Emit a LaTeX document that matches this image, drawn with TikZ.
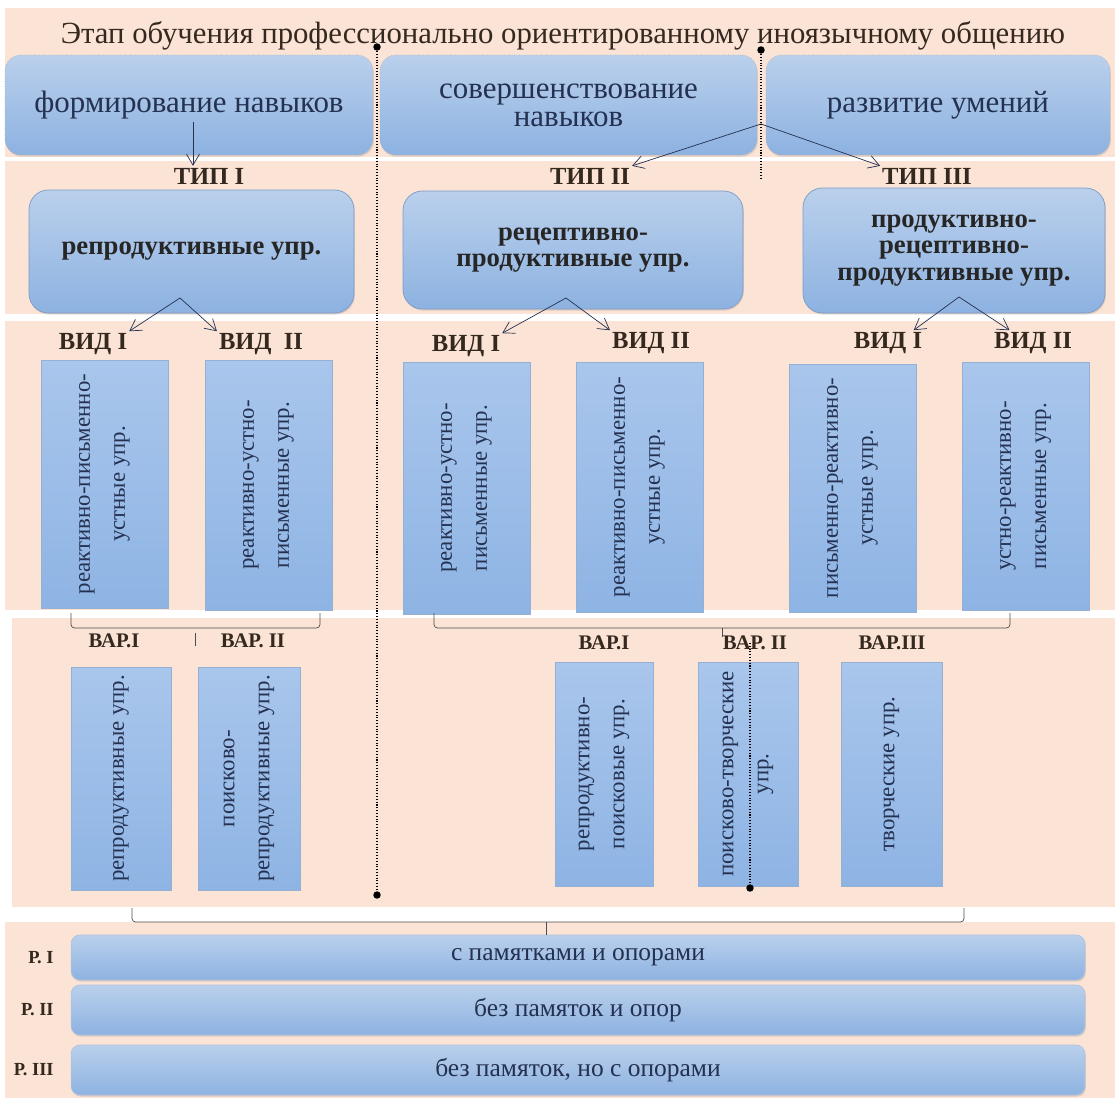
\documentclass[tikz,border=0pt]{standalone}
\usepackage{fontspec}
\setmainfont{Liberation Serif}
\usetikzlibrary{arrows.meta, positioning, shadows}

\definecolor{peach}{HTML}{FBE4D6}
\definecolor{bluetop}{HTML}{BAD0EC}
\definecolor{bluebot}{HTML}{8DB2E1}
\definecolor{formtop}{HTML}{A9C6EC}
\definecolor{formbot}{HTML}{8EB4E4}
\definecolor{blueline}{HTML}{7C9BC7}
\definecolor{inkblue}{HTML}{243151}
\definecolor{inkbrown}{HTML}{35291F}

\begin{document}
\begin{tikzpicture}[
    x=0.02cm, y=-0.02cm, % one unit = one pixel of the scheme, y grows downwards
    >={Straight Barb[length=2.2mm, width=2.6mm]}, % open arrow tips
    band/.style={fill=peach}, % background strips
    softshadow/.style={drop shadow={shadow xshift=0.5pt, shadow yshift=-0.9pt, opacity=0.25}},
    stagebox/.style={rounded corners=9pt, top color=bluetop, bottom color=bluebot,
        draw=gray!60, densely dotted, minimum height=2cm, text=inkblue, align=center,
        font=\fontsize{17.6}{16}\selectfont, softshadow},
    typebox/.style={rounded corners=11pt, top color=bluetop, bottom color=bluebot,
        draw=blueline, thin, text=black!85, align=center,
        font=\bfseries\fontsize{15.2}{15}\selectfont, softshadow},
    formbox/.style={rotate=90, top color=formtop, bottom color=formbot, draw=blueline!80, thin,
        text=inkblue, align=center, font=\fontsize{13}{20}\selectfont},
    rowbox/.style={rounded corners=5pt, top color=bluetop, bottom color=bluebot, draw=blueline!60,
        minimum width=20.28cm, text=inkblue, font=\fontsize{14.5}{16}\selectfont, softshadow},
    caption/.style={text=inkbrown, inner sep=1pt, font=\bfseries\fontsize{14}{14}\selectfont},
    varlabel/.style={text=inkbrown, inner sep=1pt, font=\bfseries\fontsize{11.8}{12}\selectfont},
    rowlabel/.style={text=inkbrown, inner sep=1pt, font=\bfseries\fontsize{10.5}{12}\selectfont},
    conn/.style={draw=inkblue, thin},
    brace/.style={draw=gray!60!black, thin, rounded corners=2pt},
    divider/.style={draw=black, densely dotted, semithick},
    enddot/.style={fill=black, circle, inner sep=1.5pt}
]
    \useasboundingbox (0,0) rectangle (1115,1098);

    % Background strips
    \fill[band] (5,8) rectangle (1115,157);
    \fill[band] (5,161) rectangle (1115,314);
    \fill[band] (5,321) rectangle (1115,610);
    \fill[band] (12,618) rectangle (1115,907);
    \fill[band] (5,922) rectangle (1115,1098);

    % Title
    \node[text=inkbrown, font=\fontsize{17.5}{20}\selectfont] (title) at (563,36)
        {Этап обучения профессионально ориентированному иноязычному общению};

    % Stages
    \node[stagebox, minimum width=7.36cm] (form)  at (189,105) {формирование навыков};
    \node[stagebox, minimum width=7.54cm] (perf)  at (568.5,105) {совершенствование\\навыков};
    \node[stagebox, minimum width=6.88cm] (devel) at (938,105) {развитие умений};

    % Types
    \node[caption] (tipI)   at (209,176) {ТИП I};
    \node[caption] (tipII)  at (590,176) {ТИП II};
    \node[caption] (tipIII) at (927,176) {ТИП III};

    \node[typebox, minimum width=6.5cm, minimum height=2.46cm] (typeI) at (191.5,251.5)
        {репродуктивные упр.};
    \node[typebox, minimum width=6.8cm, minimum height=2.36cm] (typeII) at (573,250)
        {рецептивно-\\продуктивные упр.};
    \node[typebox, minimum width=6.04cm, minimum height=2.5cm] (typeIII) at (954,250.5)
        {продуктивно-\\рецептивно-\\продуктивные упр.};

    % Kinds
    \node[caption] (vidLa) at (93,344)   {ВИД I};
    \node[caption] (vidLb) at (261,344)  {ВИД~ II};
    \node[caption] (vidMa) at (466,346)  {ВИД I};
    \node[caption] (vidMb) at (651,343)  {ВИД II};
    \node[caption] (vidRa) at (888,343)  {ВИД I};
    \node[caption] (vidRb) at (1033,343) {ВИД II};

    \node[formbox, minimum width=4.96cm, minimum height=2.54cm] (fL1) at (104.5,484)
        {реактивно-письменно-\\устные упр.};
    \node[formbox, minimum width=5cm, minimum height=2.54cm] (fL2) at (268.5,485)
        {реактивно-устно-\\письменные упр.};
    \node[formbox, minimum width=5.04cm, minimum height=2.54cm] (fM1) at (466.5,488)
        {реактивно-устно-\\письменные упр.};
    \node[formbox, minimum width=5cm, minimum height=2.54cm] (fM2) at (639.5,487)
        {реактивно-письменно-\\устные упр.};
    \node[formbox, minimum width=4.96cm, minimum height=2.54cm] (fR1) at (852.5,488)
        {письменно-реактивно-\\устные упр.};
    \node[formbox, minimum width=4.96cm, minimum height=2.54cm] (fR2) at (1025.5,486)
        {устно-реактивно-\\письменные упр.};

    % Variants
    \node[varlabel] (varLa) at (114,641) {ВАР.I};
    \node[varlabel] (varLb) at (253,641) {ВАР. II};
    \node[varlabel] (varMa) at (604,643) {ВАР.I};
    \node[varlabel] (varMb) at (755,643) {ВАР. II};
    \node[varlabel] (varMc) at (892,643) {ВАР.III};

    \node[formbox, minimum width=4.46cm, minimum height=2cm] (vL1) at (121,778.5)
        {репродуктивные упр.};
    \node[formbox, minimum width=4.46cm, minimum height=2.04cm] (vL2) at (249,778.5)
        {поисково-\\репродуктивные упр.};
    \node[formbox, minimum width=4.48cm, minimum height=1.96cm] (vM1) at (604,774)
        {репродуктивно-\\поисковые упр.};
    \node[formbox, minimum width=4.48cm, minimum height=2cm] (vM2) at (748,774)
        {поисково-творческие\\упр.};
    \node[formbox, minimum width=4.48cm, minimum height=2.02cm] (vM3) at (891.5,774)
        {творческие упр.};

    % Regimes
    \node[rowbox, minimum height=0.9cm] (rowI)   at (578,957.5) {с памятками и опорами};
    \node[rowbox, minimum height=1cm]   (rowII)  at (578,1010)  {без памяток и опор};
    \node[rowbox, minimum height=1cm]   (rowIII) at (578,1070)  {без памяток, но с опорами};
    \node[rowlabel, left=0.3cm of rowI]   (pI)   {Р. I};
    \node[rowlabel, left=0.3cm of rowII]  (pII)  {Р. II};
    \node[rowlabel, left=0.3cm of rowIII] (pIII) {Р. III};

    % Arrows
    \coordinate (forkA) at (193,122);
    \draw[conn,->] (forkA) -- (forkA |- tipI.north);
    \coordinate (forkB) at (761,124);
    \draw[conn,->] (forkB) -- (tipII.north east);
    \draw[conn,->] (forkB) -- (tipIII.north west);

    \coordinate (forkT1) at (180,298);
    \draw[conn,->] (forkT1) -- (vidLa.north east);
    \draw[conn,->] (forkT1) -- (vidLb.north west);
    \coordinate (forkT2) at (566,298);
    \draw[conn,->] (forkT2) -- (vidMa.north east);
    \draw[conn,->] (forkT2) -- (vidMb.north west);
    \coordinate (forkT3) at (959,297);
    \draw[conn,->] (forkT3) -- ([xshift=-6pt]vidRa.north east);
    \draw[conn,->] (forkT3) -- ([xshift=10pt]vidRb.north west);

    % Brackets
    \coordinate (brLa) at (71,613);  \coordinate (brLm) at (195,628);  \coordinate (brLb) at (320,613);
    \draw[brace] (brLa) |- (brLm) -| (brLb);
    \draw[brace] ([yshift=-3pt]brLm) -- ++(0,13);
    \coordinate (brMa) at (434,613); \coordinate (brMm) at (722,628);  \coordinate (brMb) at (1010,613);
    \draw[brace] (brMa) |- (brMm) -| (brMb);
    \draw[brace] (brMm) -- ++(0,9);
    \coordinate (brBa) at (132,908); \coordinate (brBm) at (546,922);  \coordinate (brBb) at (964,908);
    \draw[brace] (brBa) |- (brBm) -| (brBb);
    \draw[brace] (brBm) -- (brBm |- rowI.north);

    % Dotted dividers
    \node[enddot] (d1top) at (377,47) {};
    \node[enddot] (d1bot) at (377,895) {};
    \draw[divider] (d1top) -- (d1bot);
    \node[enddot] (d2top) at (761,50) {};
    \coordinate (d2bot) at (761,178);
    \draw[divider] (d2top) -- (d2bot);
    \coordinate (d3top) at (750,643);
    \node[enddot] (d3bot) at (750,888) {};
    \draw[divider] (d3top) -- (d3bot);

\end{tikzpicture}
\end{document}
